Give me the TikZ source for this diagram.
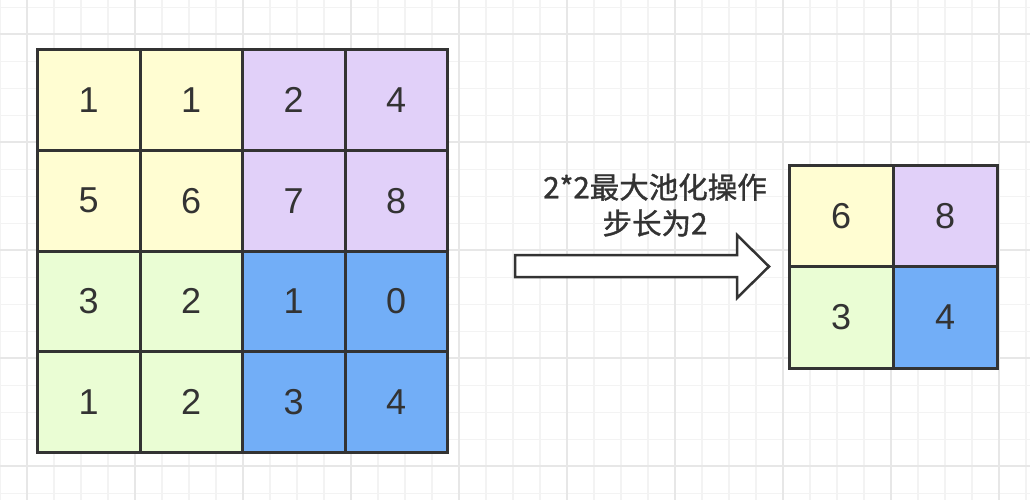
\documentclass[tikz,border=0pt]{standalone}
\usepackage{fontspec}
\newfontfamily\numfont{Liberation Sans}
\newfontfamily\cjkfont[FakeBold=1.2]{Noto Sans CJK SC}
\usetikzlibrary{positioning}

\definecolor{linec}{HTML}{333333}
\definecolor{gridminor}{HTML}{F3F3F3}
\definecolor{gridmajor}{HTML}{E7E7E7}
\definecolor{fy}{HTML}{FFFDD2}
\definecolor{fp}{HTML}{E1D0F9}
\definecolor{fg}{HTML}{EAFDD4}
\definecolor{fb}{HTML}{72AEF7}

\tikzset{
  cell/.style={draw=linec, line width=3pt, inner sep=0pt,
    minimum width=102.5pt, minimum height=100.75pt,
    font=\numfont\fontsize{36}{40}\selectfont, text=linec},
  outcell/.style={cell, minimum width=104pt, minimum height=101.5pt},
  blockarrow/.style={draw=linec, line width=2.5pt, fill=white, line join=miter}
}

\begin{document}
\begin{tikzpicture}[x=1pt, y=-1pt]
  \useasboundingbox (0,0) rectangle (1030,500);
  % background grid
  \foreach \x in {0,27,...,1030} \draw[gridminor, line width=1.5pt] (\x,0) -- (\x,500);
  \foreach \y in {7.3,34.3,...,500} \draw[gridminor, line width=1.5pt] (0,\y) -- (1030,\y);
  \foreach \x in {27,135,...,1030} \draw[gridmajor, line width=2pt] (\x,0) -- (\x,500);
  \foreach \y in {34.3,142.3,...,500} \draw[gridmajor, line width=2pt] (0,\y) -- (1030,\y);

  % input feature map 4x4
  \foreach \v/\fc [count=\k from 0] in {1/fy,1/fy,2/fp,4/fp,
                                        5/fy,6/fy,7/fp,8/fp,
                                        3/fg,2/fg,1/fb,0/fb,
                                        1/fg,2/fg,3/fb,4/fb} {
    \pgfmathsetmacro\cx{37.5+102.5*(mod(\k,4)+0.5)}
    \pgfmathsetmacro\cy{49.5+100.75*(int(\k/4)+0.5)}
    \node[cell, fill=\fc] (in-\k) at (\cx,\cy) {\v};
  }

  % operation label
  \node[font=\cjkfont\fontsize{29.5}{36}\selectfont, text=linec, align=center]
    (op) at (655,205) {2*2最大池化操作\\步长为2};

  % block arrow
  \draw[blockarrow] (515,255) -- (737,255) -- (737,235) -- (769,266.5)
    -- (737,298) -- (737,277) -- (515,277) -- cycle;

  % pooled output 2x2
  \foreach \v/\fc [count=\k from 0] in {6/fy,8/fp,3/fg,4/fb} {
    \pgfmathsetmacro\cx{789+104*(mod(\k,2)+0.5)}
    \pgfmathsetmacro\cy{165+101.5*(int(\k/2)+0.5)}
    \node[outcell, fill=\fc] (out-\k) at (\cx,\cy) {\v};
  }
\end{tikzpicture}
\end{document}
